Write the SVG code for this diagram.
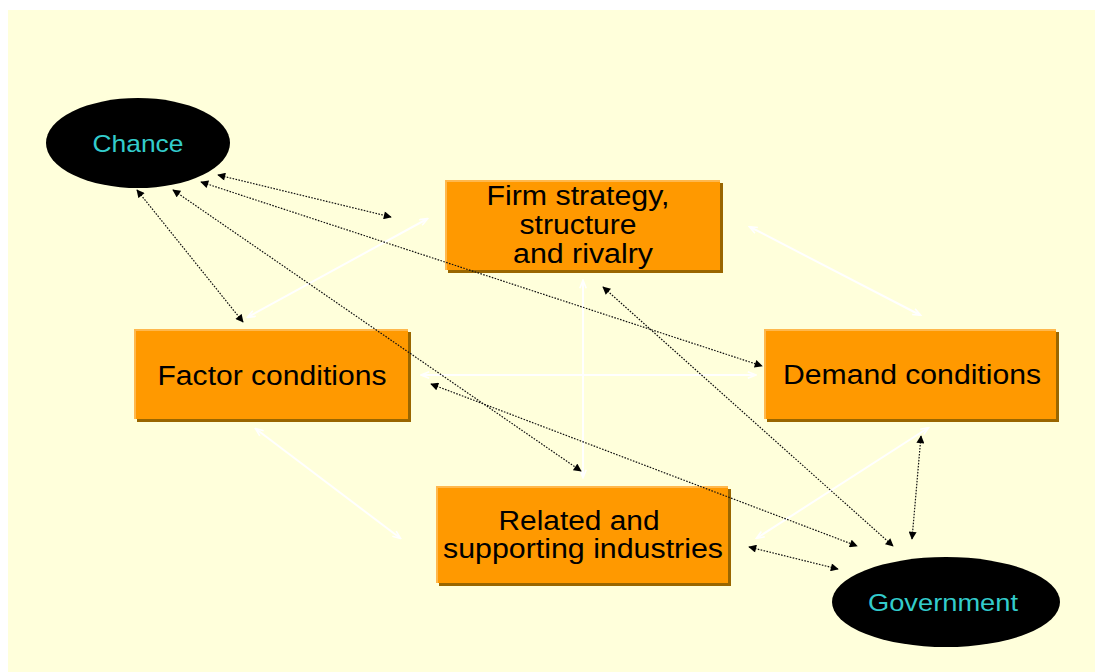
<svg xmlns="http://www.w3.org/2000/svg" width="1095" height="672" viewBox="0 0 1095 672">
  <defs>
    <style>
      .box { fill: #FF9900; }
      .hl { fill: none; stroke: #FFB84D; stroke-width: 2; }
      .sh { fill: #996600; }
      .oval { fill: #000000; }
      .lbl { font-family: "Liberation Sans", Arial, sans-serif; font-size: 27px; fill: #000000; text-anchor: middle; }
      .olbl { font-family: "Liberation Sans", Arial, sans-serif; font-size: 24px; fill: #33CCCC; text-anchor: middle; }
      .dot { fill: none; stroke: #111111; stroke-width: 1.2; stroke-dasharray: 1.6 1.4; marker-start: url(#ah); marker-end: url(#ah); }
      .wl { fill: none; stroke: #FFFFFF; stroke-width: 2; marker-start: url(#wh); marker-end: url(#wh); }
    </style>
    <marker id="ah" viewBox="0 0 10 10" refX="9" refY="5" markerWidth="9" markerHeight="8" markerUnits="userSpaceOnUse" orient="auto-start-reverse">
      <path d="M0,0 L10,5 L0,10 Z" fill="#000000"/>
    </marker>
    <marker id="wh" viewBox="0 0 10 10" refX="9" refY="5" markerWidth="10" markerHeight="8" markerUnits="userSpaceOnUse" orient="auto-start-reverse">
      <path d="M0,1 L10,5 L0,9" fill="none" stroke="#FFFFFF" stroke-width="2"/>
    </marker>
  </defs>

  <!-- page -->
  <rect x="0" y="0" width="1095" height="672" fill="#FFFFFF"/>
  <rect x="8" y="10" width="1087" height="662" fill="#FFFFDB"/>

  <!-- Chance -->
  <g id="chance">
    <ellipse class="oval" cx="138" cy="143" rx="92" ry="45"/>
    <text class="olbl" x="138" y="152" textLength="91" lengthAdjust="spacingAndGlyphs">Chance</text>
  </g>

  <!-- Firm strategy, structure and rivalry -->
  <g id="firm">
    <rect class="sh" x="448" y="183" width="275" height="90"/>
    <rect class="box" x="445" y="180" width="275" height="90"/>
    <path class="hl" d="M446,270 V181 H720"/>
    <text class="lbl" x="578" y="205" textLength="183" lengthAdjust="spacingAndGlyphs">Firm strategy,</text>
    <text class="lbl" x="578" y="234" textLength="117" lengthAdjust="spacingAndGlyphs">structure</text>
    <text class="lbl" x="583" y="263" textLength="140" lengthAdjust="spacingAndGlyphs">and rivalry</text>
  </g>

  <!-- Factor conditions -->
  <g id="factor">
    <rect class="sh" x="137" y="332" width="274" height="90"/>
    <rect class="box" x="134" y="329" width="274" height="90"/>
    <path class="hl" d="M135,419 V330 H408"/>
    <text class="lbl" x="272" y="385" textLength="229" lengthAdjust="spacingAndGlyphs">Factor conditions</text>
  </g>

  <!-- Demand conditions -->
  <g id="demand">
    <rect class="sh" x="767" y="332" width="292" height="90"/>
    <rect class="box" x="764" y="329" width="292" height="90"/>
    <path class="hl" d="M765,419 V330 H1056"/>
    <text class="lbl" x="912" y="384" textLength="258" lengthAdjust="spacingAndGlyphs">Demand conditions</text>
  </g>

  <!-- Related and supporting industries -->
  <g id="related">
    <rect class="sh" x="439" y="489" width="292" height="97"/>
    <rect class="box" x="436" y="486" width="292" height="97"/>
    <path class="hl" d="M437,583 V487 H728"/>
    <text class="lbl" x="579" y="530" textLength="161" lengthAdjust="spacingAndGlyphs">Related and</text>
    <text class="lbl" x="583" y="558" textLength="280" lengthAdjust="spacingAndGlyphs">supporting industries</text>
  </g>

  <!-- Government -->
  <g id="government">
    <ellipse class="oval" cx="946" cy="602" rx="114" ry="45"/>
    <text class="olbl" x="943" y="611" textLength="150" lengthAdjust="spacingAndGlyphs">Government</text>
  </g>

  <!-- connectors, drawn over the nodes -->
  <g id="connectors">
    <!-- white links between the four diamond factors -->
    <line class="wl" x1="248" y1="317" x2="427" y2="219"/>
    <line class="wl" x1="750" y1="227" x2="920" y2="315"/>
    <line class="wl" x1="583" y1="281" x2="583" y2="477"/>
    <line class="wl" x1="422" y1="375" x2="755" y2="375"/>
    <line class="wl" x1="256" y1="429" x2="400" y2="538"/>
    <line class="wl" x1="928" y1="428" x2="757" y2="538"/>
    <!-- dotted links to Chance and Government -->
    <line class="dot" x1="218" y1="175" x2="391" y2="217"/>
    <line class="dot" x1="201" y1="182" x2="762" y2="366"/>
    <line class="dot" x1="173" y1="190" x2="581" y2="471"/>
    <line class="dot" x1="137" y1="190" x2="243" y2="322"/>
    <line class="dot" x1="431" y1="384" x2="857" y2="546"/>
    <line class="dot" x1="603" y1="287" x2="893" y2="546"/>
    <line class="dot" x1="921" y1="436" x2="912" y2="539"/>
    <line class="dot" x1="749" y1="547" x2="838" y2="569"/>
  </g>
</svg>
